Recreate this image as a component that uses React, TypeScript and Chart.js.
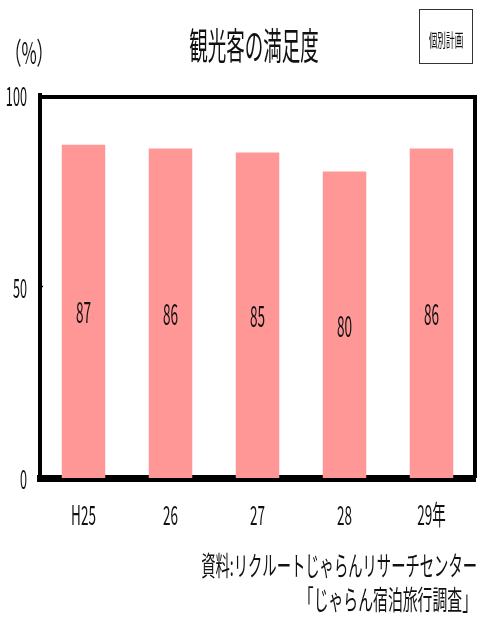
import React, { useEffect, useRef } from "react";
import { Chart, registerables } from "chart.js";

Chart.register(...registerables);

const title = "観光客の満足度";
const unitLabel = "（%）";
const badgeLabel = "個別計画";
const categories = ["H25", "26", "27", "28", "29年"];
const satisfaction = [87, 86, 85, 80, 86];
const yTickValues = [0, 50, 100];
const sourceLines = ["資料:リクルートじゃらんリサーチセンター", "「じゃらん宿泊旅行調査」"];

const FONT = "'Noto Sans CJK JP', 'Noto Sans', sans-serif";

function drawText(
  ctx: CanvasRenderingContext2D,
  text: string,
  x: number,
  y: number,
  size: number,
  sx: number,
  align: CanvasTextAlign,
  baseline: CanvasTextBaseline,
  color = "#111"
) {
  ctx.save();
  ctx.translate(x, y);
  ctx.scale(sx, 1);
  ctx.font = `${size}px ${FONT}`;
  ctx.fillStyle = color;
  ctx.textAlign = align;
  ctx.textBaseline = baseline;
  ctx.fillText(text, 0, 0);
  ctx.restore();
}

const decorPlugin = {
  id: "decor",
  afterDatasetsDraw(chart: any) {
    const { ctx, chartArea, scales } = chart;
    const x = scales.x;
    const y = scales.y;
    // top & right frame lines
    ctx.save();
    ctx.strokeStyle = "#000";
    ctx.lineWidth = 4;
    ctx.beginPath();
    ctx.moveTo(chartArea.left - 2, chartArea.top + 2);
    ctx.lineTo(chartArea.right, chartArea.top + 2);
    ctx.lineTo(chartArea.right, chartArea.bottom);
    ctx.stroke();
    // small tick mark at 50
    ctx.lineWidth = 1.5;
    ctx.beginPath();
    const p50 = y.getPixelForValue(50);
    ctx.moveTo(chartArea.left, p50);
    ctx.lineTo(chartArea.left + 3, p50);
    ctx.stroke();
    ctx.restore();

    // value labels centered in bars
    const meta = chart.getDatasetMeta(0);
    const base = y.getPixelForValue(0);
    meta.data.forEach((bar: any, i: number) => {
      const top = y.getPixelForValue(satisfaction[i]);
      drawText(ctx, String(satisfaction[i]), bar.x, (top + base) / 2 + 1, 29, 0.47, "center", "middle");
    });

    // y tick labels
    y.ticks.forEach((t: any) => {
      drawText(ctx, String(t.value), 27, y.getPixelForValue(t.value) + 1, 27, 0.47, "right", "middle");
    });

    // x category labels
    categories.forEach((c, i) => {
      drawText(ctx, c, x.getPixelForValue(i), 525, 27, 0.5, "center", "alphabetic");
    });

    // title
    drawText(ctx, title, 254, 46, 37, 0.5, "center", "middle");
    // unit
    drawText(ctx, unitLabel, 29, 53, 30, 0.55, "center", "middle");
    // badge
    ctx.save();
    ctx.strokeStyle = "#333";
    ctx.lineWidth = 1;
    ctx.strokeRect(419.5, 9.5, 53, 54);
    ctx.restore();
    drawText(ctx, badgeLabel, 446, 40, 18, 0.48, "center", "middle");

    // source
    drawText(ctx, sourceLines[0], 477, 566, 27, 0.53, "right", "middle");
    drawText(ctx, sourceLines[1], 477, 600, 27, 0.55, "right", "middle");
  },
};

export default function App() {
  const ref = useRef<HTMLCanvasElement>(null);
  useEffect(() => {
    document.body.style.margin = "0";
    const chart = new Chart(ref.current!, {
      type: "bar",
      data: {
        labels: categories,
        datasets: [
          {
            data: satisfaction,
            backgroundColor: "#ff9797",
            borderWidth: 0,
            barPercentage: 0.5,
            categoryPercentage: 1,
          },
        ],
      },
      options: {
        responsive: false,
        animation: false,
        events: [],
        layout: { padding: { left: 0, top: 95, right: 4, bottom: 0 } },
        plugins: { legend: { display: false }, tooltip: { enabled: false }, title: { display: false } },
        scales: {
          x: {
            grid: { display: false, drawTicks: false },
            ticks: { display: false },
            border: { display: true, color: "#000", width: 7 },
            afterFit: (s: any) => {
              s.height = 146;
            },
          },
          y: {
            min: yTickValues[0],
            max: yTickValues[yTickValues.length - 1],
            afterBuildTicks: (s: any) => {
              s.ticks = yTickValues.map((v) => ({ value: v }));
            },
            grid: { display: false, drawTicks: false },
            ticks: { display: false },
            border: { display: true, color: "#000", width: 4 },
            afterFit: (s: any) => {
              s.width = 40;
            },
          },
        },
      },
      plugins: [decorPlugin],
    });
    return () => chart.destroy();
  }, []);
  return (
    <div style={{ position: "absolute", left: 0, top: 0, width: 479, height: 624, background: "#fff" }}>
      <canvas ref={ref} width={479} height={624} style={{ width: 479, height: 624, display: "block" }} />
    </div>
  );
}
